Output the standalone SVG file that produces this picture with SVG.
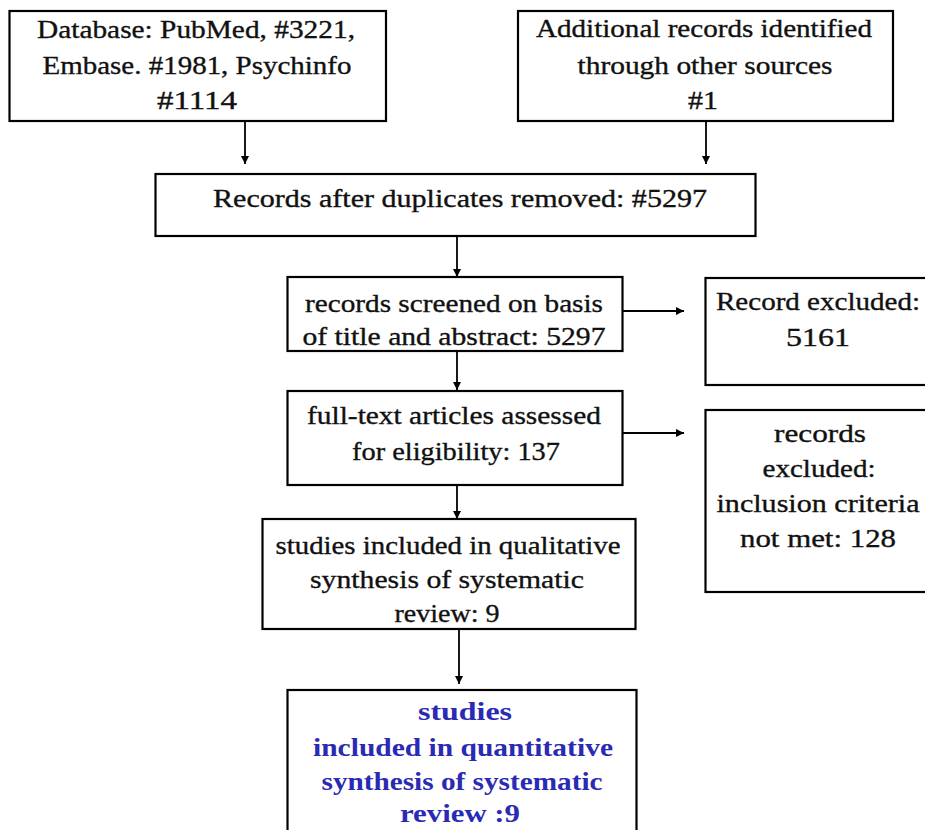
<svg xmlns="http://www.w3.org/2000/svg" width="925" height="830" viewBox="0 0 925 830">
  <style>
    .box { fill: #ffffff; stroke: #000000; stroke-width: 2.2; }
    .lbl { font-family: "Liberation Serif", "Times New Roman", serif; font-size: 26px; fill: #111111; stroke: #111111; stroke-width: 0.35; text-anchor: middle; }
    .hl { font-family: "Liberation Serif", "Times New Roman", serif; font-size: 26px; font-weight: bold; fill: #2a2ab4; text-anchor: middle; }
    .edge { stroke: #000000; stroke-width: 1.8; fill: none; marker-end: url(#head); }
  </style>
  <defs>
    <marker id="head" viewBox="0 0 10 10" refX="10" refY="5" markerWidth="8" markerHeight="8" markerUnits="userSpaceOnUse" orient="auto">
      <path d="M0,0 L10,5 L0,10 z" fill="#000000"/>
    </marker>
  </defs>
  <rect width="925" height="830" fill="#ffffff"/>

  <g id="connectors">
    <line class="edge" x1="245" y1="122" x2="245" y2="164"/>
    <line class="edge" x1="706" y1="122" x2="706" y2="164"/>
    <line class="edge" x1="457" y1="236" x2="457" y2="277"/>
    <line class="edge" x1="457" y1="351" x2="457" y2="390"/>
    <line class="edge" x1="622" y1="311" x2="684" y2="311"/>
    <line class="edge" x1="622" y1="433" x2="684" y2="433"/>
    <line class="edge" x1="457" y1="485" x2="457" y2="519"/>
    <line class="edge" x1="459" y1="630" x2="459" y2="684"/>
  </g>

  <g id="database-search">
    <rect class="box" x="9.5" y="11" width="376.5" height="110"/>
    <text class="lbl" x="196" y="38" textLength="318" lengthAdjust="spacingAndGlyphs">Database: PubMed, #3221,</text>
    <text class="lbl" x="197" y="74" textLength="309" lengthAdjust="spacingAndGlyphs">Embase. #1981, Psychinfo</text>
    <text class="lbl" x="197" y="109" textLength="80" lengthAdjust="spacingAndGlyphs">#1114</text>
  </g>

  <g id="other-sources">
    <rect class="box" x="518" y="11" width="375" height="110"/>
    <text class="lbl" x="704" y="37" textLength="336" lengthAdjust="spacingAndGlyphs">Additional records identified</text>
    <text class="lbl" x="705" y="74" textLength="255" lengthAdjust="spacingAndGlyphs">through other sources</text>
    <text class="lbl" x="703" y="109" textLength="30" lengthAdjust="spacingAndGlyphs">#1</text>
  </g>

  <g id="duplicates-removed">
    <rect class="box" x="155.5" y="174" width="600" height="62"/>
    <text class="lbl" x="460" y="207" textLength="494" lengthAdjust="spacingAndGlyphs">Records after duplicates removed: #5297</text>
  </g>

  <g id="screened">
    <rect class="box" x="287.5" y="277" width="335" height="74"/>
    <text class="lbl" x="454" y="312" textLength="298" lengthAdjust="spacingAndGlyphs">records screened on basis</text>
    <text class="lbl" x="454" y="345" textLength="303" lengthAdjust="spacingAndGlyphs">of title and abstract: 5297</text>
  </g>

  <g id="excluded-screening">
    <rect class="box" x="705.5" y="278" width="226" height="107"/>
    <text class="lbl" x="818" y="310" textLength="204" lengthAdjust="spacingAndGlyphs">Record excluded:</text>
    <text class="lbl" x="818" y="346" textLength="64" lengthAdjust="spacingAndGlyphs">5161</text>
  </g>

  <g id="full-text">
    <rect class="box" x="287.5" y="391" width="335" height="94"/>
    <text class="lbl" x="454" y="424" textLength="294" lengthAdjust="spacingAndGlyphs">full-text articles assessed</text>
    <text class="lbl" x="456" y="460" textLength="208" lengthAdjust="spacingAndGlyphs">for eligibility: 137</text>
  </g>

  <g id="excluded-eligibility">
    <rect class="box" x="705.5" y="410" width="226" height="182"/>
    <text class="lbl" x="820" y="442" textLength="92" lengthAdjust="spacingAndGlyphs">records</text>
    <text class="lbl" x="819" y="477" textLength="113" lengthAdjust="spacingAndGlyphs">excluded:</text>
    <text class="lbl" x="818" y="512" textLength="203" lengthAdjust="spacingAndGlyphs">inclusion criteria</text>
    <text class="lbl" x="818" y="547" textLength="156" lengthAdjust="spacingAndGlyphs">not met: 128</text>
  </g>

  <g id="qualitative">
    <rect class="box" x="262.5" y="519" width="373" height="110"/>
    <text class="lbl" x="448" y="554" textLength="345" lengthAdjust="spacingAndGlyphs">studies included in qualitative</text>
    <text class="lbl" x="447" y="588" textLength="274" lengthAdjust="spacingAndGlyphs">synthesis of systematic</text>
    <text class="lbl" x="447" y="622" textLength="105" lengthAdjust="spacingAndGlyphs">review: 9</text>
  </g>

  <g id="quantitative">
    <rect class="box" x="287.5" y="690" width="349" height="150"/>
    <text class="hl" x="465" y="720" textLength="94" lengthAdjust="spacingAndGlyphs">studies</text>
    <text class="hl" x="463" y="756" textLength="300" lengthAdjust="spacingAndGlyphs">included in quantitative</text>
    <text class="hl" x="462" y="790" textLength="281" lengthAdjust="spacingAndGlyphs">synthesis of systematic</text>
    <text class="hl" x="460" y="822" textLength="120" lengthAdjust="spacingAndGlyphs">review :9</text>
  </g>
</svg>
